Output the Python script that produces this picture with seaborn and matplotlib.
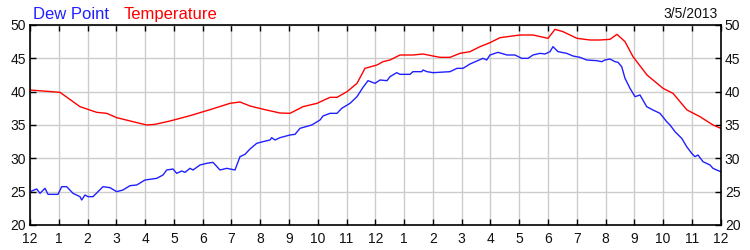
import numpy as np
import pandas as pd
import matplotlib
matplotlib.use("Agg")
import matplotlib.pyplot as plt
import seaborn as sns

# pixel x positions -> hours (0..24)
temp_x = [30, 60, 80, 96.7, 106.7, 116.7, 133, 146.7, 155, 170, 190, 210, 230, 240, 250, 265, 280, 290,
          303, 317, 330, 337, 347, 357, 365, 377, 383, 390, 400, 413, 423, 433, 440, 450, 460, 470,
          480, 490, 500, 520, 533, 548, 555, 563, 577, 590, 600, 610, 617, 625, 633, 647, 663, 673,
          687, 700, 713, 720.7]
temp_v = [40.25, 39.9, 37.75, 36.9, 36.75, 36.1, 35.5, 35.0, 35.1, 35.6, 36.4, 37.3, 38.25, 38.45, 37.85, 37.3, 36.8, 36.75,
          37.75, 38.25, 39.15, 39.15, 40.0, 41.25, 43.5, 44.0, 44.5, 44.75, 45.5, 45.5, 45.65, 45.35, 45.15, 45.15, 45.75, 46.0,
          46.75, 47.35, 48.1, 48.5, 48.5, 48.0, 49.35, 49.0, 48.0, 47.75, 47.75, 47.85, 48.6, 47.5, 45.25, 42.5, 40.5, 39.75,
          37.25, 36.25, 35.0, 34.5]

dew_x = [30, 36.7, 40, 45, 48, 58, 61.7, 66.7, 73, 80, 81.7, 85, 88, 93, 103, 110, 116.7, 123, 130, 136.7,
         145, 156.7, 163, 166.7, 173, 176.7, 181.7, 185, 190, 193, 200, 206.7, 213, 220, 226.7, 235,
         240, 245, 250, 256.7, 263, 270, 271.7, 275, 280, 290, 295, 300, 311.7, 320, 323, 330, 337,
         341.7, 350, 357, 363, 368, 375, 380, 387, 390, 396.7, 400, 410, 413, 421.7, 423, 427, 433,
         450, 457, 463, 470, 483, 486.7, 490, 498, 507, 515, 521.7, 528, 533, 540, 545, 550, 553,
         558, 566.7, 573, 580, 586.7, 596.7, 601.7, 605, 610, 615, 618, 621.7, 625, 630, 635, 640,
         646.7, 653, 660, 666.7, 670, 675, 681.7, 686.7, 691.7, 695, 698, 703, 710, 713, 716.7, 720.7]
dew_v = [25.0, 25.4, 24.75, 25.5, 24.6, 24.6, 25.75, 25.75, 24.75, 24.25, 23.75, 24.5, 24.25, 24.25, 25.75, 25.6, 25.0, 25.25, 25.9, 26.0,
         26.75, 27.0, 27.5, 28.25, 28.4, 27.75, 28.1, 27.9, 28.5, 28.25, 29.0, 29.25, 29.4, 28.25, 28.5, 28.25,
         30.25, 30.6, 31.4, 32.25, 32.5, 32.75, 33.1, 32.75, 33.1, 33.5, 33.6, 34.5, 35.0, 35.75, 36.35, 36.75, 36.75,
         37.5, 38.25, 39.25, 40.65, 41.65, 41.25, 41.75, 41.65, 42.25, 42.85, 42.6, 42.6, 43.0, 43.0, 43.25, 43.0, 42.85,
         43.0, 43.5, 43.5, 44.15, 45.0, 44.75, 45.5, 45.9, 45.5, 45.5, 45.0, 45.0, 45.5, 45.75, 45.65, 46.0, 46.75,
         46.0, 45.75, 45.35, 45.15, 44.75, 44.65, 44.5, 44.75, 44.9, 44.5, 44.4, 43.75, 42.0, 40.5, 39.25, 39.5,
         37.75, 37.25, 36.75, 35.5, 35.0, 34.0, 33.0, 31.75, 30.75, 30.25, 30.5, 29.5, 29.0, 28.5, 28.25, 28.0]

x_labels = ["12", "1", "2", "3", "4", "5", "6", "7", "8", "9", "10", "11",
            "12", "1", "2", "3", "4", "5", "6", "7", "8", "9", "10", "11", "12"]
y_ticks = [20, 25, 30, 35, 40, 45, 50]
date_label = "3/5/2013"

X0, X1 = 30.0, 720.7
def to_hours(px):
    return [(p - X0) / (X1 - X0) * 24 for p in px]

df = pd.concat([
    pd.DataFrame({"hour": to_hours(temp_x), "value": temp_v, "series": "Temperature"}),
    pd.DataFrame({"hour": to_hours(dew_x), "value": dew_v, "series": "Dew Point"}),
])

sns.set_theme(style="white")
plt.rcParams["font.family"] = ["Liberation Sans", "DejaVu Sans"]

fig = plt.figure(figsize=(7.5, 2.5), dpi=100)
ax = fig.add_axes([X0 / 750, 0.1, (X1 - X0) / 750, 0.8])

sns.lineplot(data=df, x="hour", y="value", hue="series",
             palette={"Temperature": "#ff0000", "Dew Point": "#2020ff"},
             hue_order=["Temperature", "Dew Point"],
             linewidth=1.0, ax=ax, legend=False, estimator=None, sort=True)

ax.set_xlim(0, 24)
ax.set_ylim(20, 50)
ax.set_xticks(range(25))
ax.set_xticklabels(x_labels)
ax.set_yticks(y_ticks)
ax.set_xlabel("")
ax.set_ylabel("")
ax.grid(True, color="#cccccc", linewidth=1.0)
ax.set_axisbelow(True)
for s in ax.spines.values():
    s.set_color("black")
    s.set_linewidth(1.2)
ax.tick_params(axis="x", direction="in", length=4, width=1, color="black",
               top=True, bottom=True, labelsize=10, pad=5, labelcolor="#111111")
ax.tick_params(axis="y", direction="in", length=4, width=1, color="black",
               left=True, right=True, labelleft=True, labelright=True,
               labelsize=10, pad=3, labelcolor="#111111")

fig.text(33 / 750, 1 - 19 / 250, "Dew Point", color="#2020ff", fontsize=12, ha="left", va="baseline")
fig.text(124 / 750, 1 - 19 / 250, "Temperature", color="#ff0000", fontsize=12, ha="left", va="baseline")
fig.text(718 / 750, 1 - 18 / 250, date_label, color="#111111", fontsize=10, ha="right", va="baseline")

fig.savefig("out.png", dpi=100)
